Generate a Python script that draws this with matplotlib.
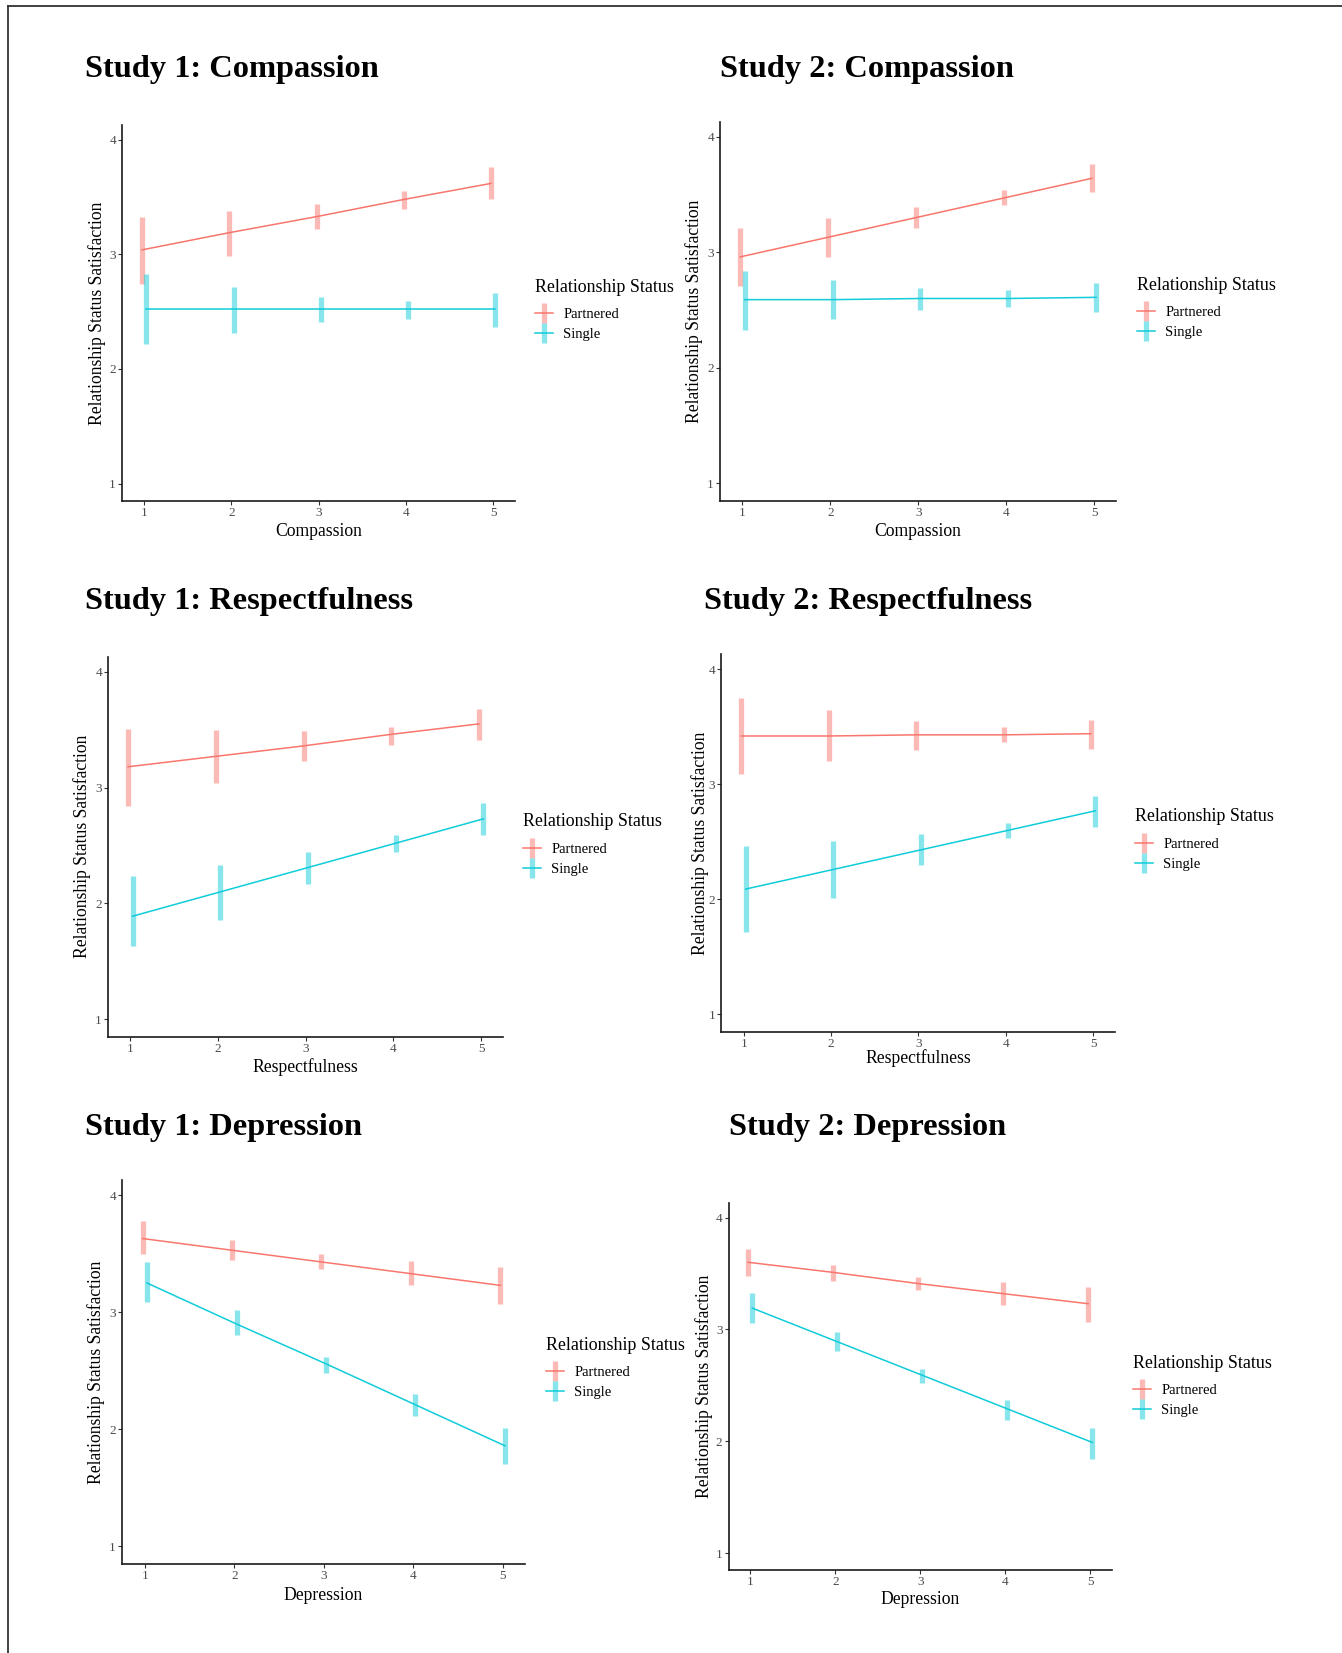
'''
Six panels of relationship status satisfaction by predictor level,
for partnered and single participants, in two studies.
'''
import matplotlib.pyplot as plt
from matplotlib.lines import Line2D
from matplotlib.legend_handler import HandlerTuple

plt.rcParams['font.family'] = ['Liberation Serif', 'DejaVu Serif']

W, H = 1342, 1653
levels = [1, 2, 3, 4, 5]
groups = ['Partnered', 'Single']
colors = ['#F8766D', '#10CCD9']

# Study 1: Compassion
s1_comp_partnered = [3.04, 3.19, 3.33, 3.48, 3.62]
s1_comp_partnered_lo = [2.74, 2.99, 3.22, 3.40, 3.48]
s1_comp_partnered_hi = [3.33, 3.38, 3.44, 3.55, 3.76]
s1_comp_single = [2.52, 2.52, 2.52, 2.52, 2.52]
s1_comp_single_lo = [2.22, 2.31, 2.41, 2.44, 2.37]
s1_comp_single_hi = [2.83, 2.72, 2.63, 2.59, 2.66]

# Study 2: Compassion
s2_comp_partnered = [2.96, 3.13, 3.30, 3.47, 3.64]
s2_comp_partnered_lo = [2.71, 2.96, 3.21, 3.41, 3.52]
s2_comp_partnered_hi = [3.21, 3.30, 3.39, 3.54, 3.76]
s2_comp_single = [2.59, 2.59, 2.60, 2.60, 2.61]
s2_comp_single_lo = [2.33, 2.42, 2.50, 2.53, 2.48]
s2_comp_single_hi = [2.84, 2.76, 2.69, 2.67, 2.73]

# Study 1: Respectfulness
s1_resp_partnered = [3.18, 3.27, 3.36, 3.46, 3.55]
s1_resp_partnered_lo = [2.84, 3.04, 3.23, 3.37, 3.41]
s1_resp_partnered_hi = [3.51, 3.50, 3.49, 3.52, 3.68]
s1_resp_single = [1.89, 2.10, 2.31, 2.52, 2.73]
s1_resp_single_lo = [1.63, 1.86, 2.17, 2.44, 2.59]
s1_resp_single_hi = [2.24, 2.33, 2.44, 2.59, 2.87]

# Study 2: Respectfulness
s2_resp_partnered = [3.42, 3.42, 3.43, 3.43, 3.44]
s2_resp_partnered_lo = [3.09, 3.20, 3.30, 3.37, 3.31]
s2_resp_partnered_hi = [3.75, 3.65, 3.55, 3.50, 3.56]
s2_resp_single = [2.09, 2.26, 2.43, 2.60, 2.77]
s2_resp_single_lo = [1.72, 2.01, 2.30, 2.53, 2.63]
s2_resp_single_hi = [2.46, 2.51, 2.57, 2.66, 2.90]

# Study 1: Depression
s1_dep_partnered = [3.63, 3.53, 3.43, 3.33, 3.23]
s1_dep_partnered_lo = [3.50, 3.45, 3.37, 3.23, 3.07]
s1_dep_partnered_hi = [3.78, 3.62, 3.50, 3.44, 3.39]
s1_dep_single = [3.25, 2.90, 2.56, 2.21, 1.86]
s1_dep_single_lo = [3.09, 2.81, 2.48, 2.11, 1.70]
s1_dep_single_hi = [3.43, 3.02, 2.62, 2.30, 2.01]

# Study 2: Depression
s2_dep_partnered = [3.60, 3.51, 3.41, 3.32, 3.23]
s2_dep_partnered_lo = [3.48, 3.43, 3.35, 3.22, 3.07]
s2_dep_partnered_hi = [3.72, 3.58, 3.47, 3.42, 3.38]
s2_dep_single = [3.19, 2.89, 2.59, 2.29, 1.99]
s2_dep_single_lo = [3.06, 2.81, 2.52, 2.19, 1.84]
s2_dep_single_hi = [3.33, 2.98, 2.65, 2.37, 2.12]


def px_rect(left, top, right, bottom):
    return [left / W, 1 - bottom / H, (right - left) / W, (bottom - top) / H]


def fig_text(fig, x, y, s, **kw):
    fig.text(x / W, 1 - y / H, s, **kw)


def plot_panel(fig, box, title, xlabel, series, title_pos, ylab_x, xlab_y,
               leg_pos):
    left, top, right, bottom = box
    ax = fig.add_axes(px_rect(*box))
    shifts = [-0.025, 0.025]
    for (mean, lo, hi), color, shift in zip(series, colors, shifts):
        xs = [v + shift for v in levels]
        ax.vlines(xs, lo, hi, color=color, lw=3.8, alpha=0.5)
        ax.plot(xs, mean, color=color, lw=1.1)

    ax.set_xlim(0.745, 5.25)
    ax.set_ylim(0.85, 4.13)
    ax.set_xticks(levels)
    ax.set_yticks([1, 2, 3, 4])
    ax.tick_params(labelsize=9.5, labelcolor='#4D4D4D', color='#333333',
                   length=2.9, width=0.8, pad=1.5)
    for side in ['top', 'right']:
        ax.spines[side].set_visible(False)
    for side in ['left', 'bottom']:
        ax.spines[side].set_linewidth(1.2)
        ax.spines[side].set_color('#1a1a1a')

    fig_text(fig, title_pos[0], title_pos[1], title, fontsize=23.3,
             fontweight='bold', ha='left', va='center')
    fig_text(fig, ylab_x, (top + bottom) / 2,
             'Relationship Status Satisfaction', fontsize=12.7,
             rotation=90, ha='center', va='center')
    fig_text(fig, (left + right) / 2, xlab_y, xlabel, fontsize=12.7,
             ha='center', va='center')

    # legend: title as its own text, entries below it
    leg_x, leg_y = leg_pos
    fig_text(fig, leg_x, leg_y, 'Relationship Status', fontsize=12.9,
             ha='left', va='center')
    handles = []
    for color in colors:
        bar = Line2D([], [], color=color, marker='|', markersize=13.7,
                     markeredgewidth=3.8, alpha=0.5, linestyle='None')
        line = Line2D([], [], color=color, lw=1.1)
        handles.append((bar, line))
    ax.legend(handles, groups, handler_map={tuple: HandlerTuple(ndivide=1)},
              fontsize=10.5, loc='upper left', frameon=False, borderpad=0,
              borderaxespad=0, handlelength=1.2, handletextpad=0.75,
              labelspacing=0.47,
              bbox_to_anchor=(leg_x / W, 1 - (leg_y + 27.5 - 7) / H),
              bbox_transform=fig.transFigure)
    return ax


fig = plt.figure(figsize=(W / 100, H / 100), dpi=100)

panels = [
    ((122, 125, 515, 500.7), 'Study 1: Compassion', 'Compassion',
     [(s1_comp_partnered, s1_comp_partnered_lo, s1_comp_partnered_hi),
      (s1_comp_single, s1_comp_single_lo, s1_comp_single_hi)],
     (85, 70), 96.7, 531, (535, 287)),
    ((720, 121.7, 1116, 500.7), 'Study 2: Compassion', 'Compassion',
     [(s2_comp_partnered, s2_comp_partnered_lo, s2_comp_partnered_hi),
      (s2_comp_single, s2_comp_single_lo, s2_comp_single_hi)],
     (720, 70), 694, 531, (1137, 285)),
    ((108, 656.7, 503, 1036.7), 'Study 1: Respectfulness', 'Respectfulness',
     [(s1_resp_partnered, s1_resp_partnered_lo, s1_resp_partnered_hi),
      (s1_resp_single, s1_resp_single_lo, s1_resp_single_hi)],
     (85, 602), 82.4, 1067.5, (523, 822)),
    ((721.4, 654.3, 1115, 1031.7), 'Study 2: Respectfulness',
     'Respectfulness',
     [(s2_resp_partnered, s2_resp_partnered_lo, s2_resp_partnered_hi),
      (s2_resp_single, s2_resp_single_lo, s2_resp_single_hi)],
     (704.5, 602), 700.3, 1058.5, (1135, 817)),
    ((122, 1180, 525, 1564), 'Study 1: Depression', 'Depression',
     [(s1_dep_partnered, s1_dep_partnered_lo, s1_dep_partnered_hi),
      (s1_dep_single, s1_dep_single_lo, s1_dep_single_hi)],
     (85, 1127), 95.9, 1595, (546, 1345)),
    ((728.6, 1203, 1111.5, 1570), 'Study 2: Depression', 'Depression',
     [(s2_dep_partnered, s2_dep_partnered_lo, s2_dep_partnered_hi),
      (s2_dep_single, s2_dep_single_lo, s2_dep_single_hi)],
     (728.6, 1127), 704.5, 1600, (1133, 1363)),
]

for box, title, xlabel, series, title_pos, ylab_x, xlab_y, leg_pos in panels:
    plot_panel(fig, box, title, xlabel, series, title_pos, ylab_x, xlab_y,
               leg_pos)

# frame lines along the top and left edges of the page
fig.add_artist(Line2D([7.5 / W, 7.5 / W], [0, 1 - 5.5 / H], color='#333333',
                      lw=1.3))
fig.add_artist(Line2D([7.5 / W, 1], [1 - 5.5 / H, 1 - 5.5 / H],
                      color='#333333', lw=1.3))

fig.savefig('out.png', dpi=100)
